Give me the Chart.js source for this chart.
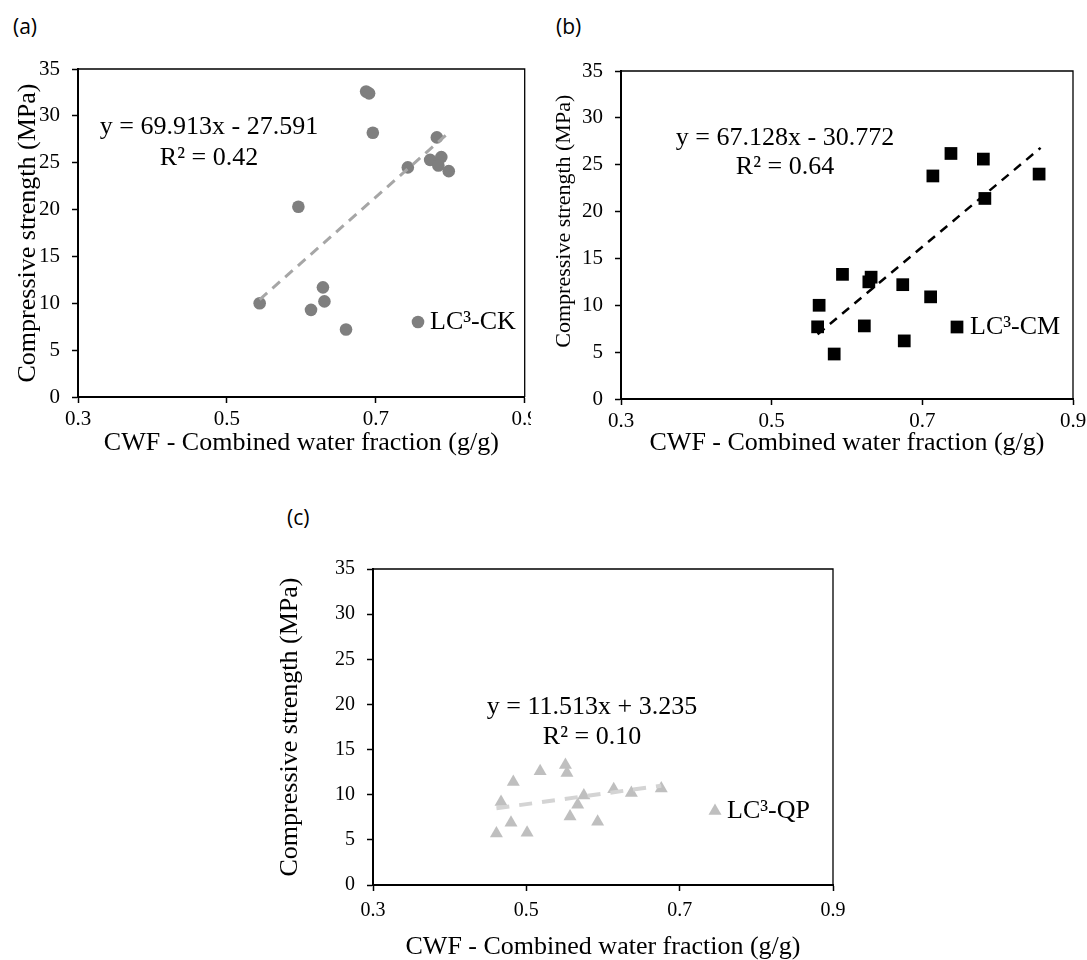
<!DOCTYPE html>
<html lang="en">
<head>
    <meta charset="UTF-8">
    <title>Compressive strength vs combined water fraction</title>
    <script src="https://cdn.jsdelivr.net/npm/chart.js"></script>
    <style>
        body { margin: 0; background: #fff; width: 1087px; height: 960px; position: relative; overflow: hidden; }
        .panel { position: absolute; }
        .tag { position: absolute; font-family: 'Open Sans', sans-serif; font-size: 21px; line-height: 1; color: #000; }
    </style>
</head>
<body>
    <div class="tag" style="left:13px; top:16px">(a)</div>
    <div class="tag" style="left:556px; top:16px">(b)</div>
    <div class="tag" style="left:287px; top:507px">(c)</div>

    <canvas id="chartA" class="panel" width="531" height="456" style="left:0; top:0"></canvas>
    <canvas id="chartB" class="panel" width="547" height="456" style="left:540px; top:0"></canvas>
    <canvas id="chartC" class="panel" width="590" height="490" style="left:270px; top:470px"></canvas>

    <script>
        // axis ticks (shared by all three panels)
        const cwfTicks = [0.3, 0.5, 0.7, 0.9];
        const strengthTicks = [0, 5, 10, 15, 20, 25, 30, 35];

        // (a) LC3-CK
        const ckCwf = [0.687, 0.691, 0.696, 0.782, 0.743, 0.773, 0.788, 0.784, 0.798, 0.596, 0.629, 0.631, 0.613, 0.544, 0.660];
        const ckStrength = [32.6, 32.4, 28.2, 27.7, 24.5, 25.3, 25.6, 24.7, 24.1, 20.3, 11.7, 10.2, 9.3, 10.0, 7.2];
        const ckTrendX = [0.544, 0.798];
        const ckTrendY = [10.4, 28.2];
        const ckEquation = ['y = 69.913x - 27.591', 'R² = 0.42'];

        // (b) LC3-CM
        const cmCwf = [0.563, 0.561, 0.583, 0.594, 0.623, 0.629, 0.632, 0.674, 0.676, 0.711, 0.714, 0.738, 0.781, 0.783, 0.855];
        const cmStrength = [10.0, 7.7, 4.8, 13.3, 7.8, 12.5, 13.0, 12.2, 6.2, 10.9, 23.8, 26.2, 25.6, 21.4, 24.0];
        const cmTrendX = [0.561, 0.857];
        const cmTrendY = [6.9, 26.8];
        const cmEquation = ['y = 67.128x - 30.772', 'R² = 0.64'];

        // (c) LC3-QP
        const qpCwf = [0.461, 0.467, 0.480, 0.483, 0.501, 0.518, 0.551, 0.553, 0.557, 0.567, 0.575, 0.593, 0.614, 0.637, 0.676];
        const qpStrength = [5.7, 9.2, 6.9, 11.4, 5.8, 12.6, 13.3, 12.4, 7.6, 8.9, 9.9, 7.0, 10.6, 10.2, 10.7];
        const qpTrendX = [0.461, 0.676];
        const qpTrendY = [8.5, 11.0];
        const qpEquation = ['y = 11.513x + 3.235', 'R² = 0.10'];

        const serif = "'Liberation Serif', 'Times New Roman', serif";

        // top/right frame, equation text and the one-entry legend inside the plot
        const panelDecor = {
            id: 'panelDecor',
            afterDraw(chart, args, o) {
                const { ctx, chartArea: a } = chart;
                ctx.save();
                ctx.strokeStyle = '#000';
                ctx.lineWidth = 1.3;
                ctx.beginPath();
                ctx.moveTo(a.left, a.top);
                ctx.lineTo(a.right, a.top);
                ctx.lineTo(a.right, a.bottom);
                ctx.stroke();

                ctx.fillStyle = '#000';
                ctx.font = '26px ' + serif;
                ctx.textAlign = 'center';
                ctx.textBaseline = 'middle';
                o.equation.forEach((line, i) => ctx.fillText(line, o.eqX, o.eqY + i * o.eqGap));

                ctx.fillStyle = o.color;
                if (Chart.helpers && Chart.helpers.drawPoint) {
                    Chart.helpers.drawPoint(ctx, { pointStyle: o.pointStyle, radius: o.radius, rotation: 0, borderWidth: 0 }, o.legX, o.legY);
                } else {
                    ctx.beginPath();
                    ctx.arc(o.legX, o.legY, o.radius, 0, Math.PI * 2);
                    ctx.fill();
                }
                ctx.fillStyle = '#000';
                ctx.textAlign = 'left';
                ctx.fillText(o.legend, o.legTextX, o.legY);
                ctx.restore();
            }
        };

        function makeChart(id, p) {
            const points = p.x.map((x, i) => ({ x: x, y: p.y[i] }));
            const trend = p.trendX.map((x, i) => ({ x: x, y: p.trendY[i] }));

            return new Chart(document.getElementById(id), {
                type: 'scatter',
                data: {
                    datasets: [
                        {
                            label: 'Linear trend',
                            data: trend,
                            showLine: true,
                            borderColor: p.trendColor,
                            borderWidth: p.trendWidth,
                            borderDash: p.dash,
                            pointRadius: 0,
                            fill: false,
                            order: 0
                        },
                        {
                            label: p.legend,
                            data: points,
                            pointStyle: p.pointStyle,
                            pointRadius: p.radius,
                            backgroundColor: p.color,
                            borderWidth: 0,
                            order: 1
                        }
                    ]
                },
                options: {
                    responsive: false,
                    animation: false,
                    events: [],
                    layout: { padding: p.padding },
                    scales: {
                        x: {
                            type: 'linear',
                            min: 0.3,
                            max: 0.9,
                            afterBuildTicks: s => { s.ticks = cwfTicks.map(v => ({ value: v })); },
                            afterFit: s => { s.height = p.xAxisH; s.paddingLeft = 0; s.paddingRight = 0; },
                            ticks: {
                                color: '#000',
                                font: { family: serif, size: p.tickSize, lineHeight: 1 },
                                padding: p.xTickPad,
                                autoSkip: false,
                                maxRotation: 0,
                                callback: v => v.toFixed(1)
                            },
                            grid: { drawOnChartArea: false, drawTicks: true, tickLength: 6, tickColor: '#000', tickWidth: 1.5 },
                            border: { display: true, color: '#000', width: 2 },
                            title: {
                                display: true,
                                text: 'CWF - Combined water fraction (g/g)',
                                color: '#000',
                                font: { family: serif, size: 26, lineHeight: 1 },
                                padding: { top: 0, bottom: 0 }
                            }
                        },
                        y: {
                            type: 'linear',
                            min: 0,
                            max: 35,
                            afterBuildTicks: s => { s.ticks = strengthTicks.map(v => ({ value: v })); },
                            afterFit: s => { s.width = p.yAxisW; s.paddingTop = 0; s.paddingBottom = 0; },
                            ticks: {
                                color: '#000',
                                font: { family: serif, size: p.tickSize, lineHeight: 1 },
                                padding: 12,
                                autoSkip: false
                            },
                            grid: { drawOnChartArea: false, drawTicks: true, tickLength: 6, tickColor: '#000', tickWidth: 1.5 },
                            border: { display: true, color: '#000', width: 2 },
                            title: {
                                display: true,
                                text: p.yTitle,
                                color: '#000',
                                font: { family: serif, size: p.yTitleSize, lineHeight: 1 },
                                padding: { top: p.yTitlePad, bottom: 0 }
                            }
                        }
                    },
                    plugins: {
                        legend: { display: false },
                        tooltip: { enabled: false },
                        panelDecor: {
                            equation: p.equation,
                            eqX: p.eqX, eqY: p.eqY, eqGap: p.eqGap,
                            legend: p.legend,
                            pointStyle: p.pointStyle,
                            radius: p.radius,
                            color: p.color,
                            legX: p.legX, legY: p.legY, legTextX: p.legTextX
                        }
                    }
                },
                plugins: [panelDecor]
            });
        }

        const yTitle = 'Compressive strength (MPa)';

        makeChart('chartA', {
            x: ckCwf, y: ckStrength, trendX: ckTrendX, trendY: ckTrendY,
            legend: 'LC³-CK', equation: ckEquation,
            pointStyle: 'circle', radius: 6.3, color: '#7f7f7f',
            trendColor: '#a6a6a6', trendWidth: 3, dash: [10, 7],
            padding: { left: 0, top: 69, right: 3, bottom: 0 },
            yAxisW: 78, xAxisH: 59, tickSize: 21, xTickPad: 6,
            yTitle: yTitle, yTitleSize: 26, yTitlePad: 15,
            eqX: 209, eqY: 127, eqGap: 31,
            legX: 418, legY: 322, legTextX: 430
        });

        // panel (b) has its axis title sitting a little above the middle of the axis
        makeChart('chartB', {
            x: cmCwf, y: cmStrength, trendX: cmTrendX, trendY: cmTrendY,
            legend: 'LC³-CM', equation: cmEquation,
            pointStyle: 'rect', radius: 9, color: '#000',
            trendColor: '#000', trendWidth: 2.5, dash: [9, 7],
            padding: { left: 0, top: 71, right: 14, bottom: 0 },
            yAxisW: 81, xAxisH: 57, tickSize: 21, xTickPad: 6,
            yTitle: '\u00a0\u00a0\u00a0\u00a0\u00a0' + yTitle, yTitleSize: 22, yTitlePad: 13,
            eqX: 245, eqY: 138, eqGap: 29,
            legX: 417, legY: 327, legTextX: 430
        });

        makeChart('chartC', {
            x: qpCwf, y: qpStrength, trendX: qpTrendX, trendY: qpTrendY,
            legend: 'LC³-QP', equation: qpEquation,
            pointStyle: 'triangle', radius: 7.5, color: '#bfbfbf',
            trendColor: '#d4d4d4', trendWidth: 4, dash: [13, 10],
            padding: { left: 0, top: 99, right: 27, bottom: 0 },
            yAxisW: 103, xAxisH: 75, tickSize: 20, xTickPad: 10,
            yTitle: yTitle, yTitleSize: 26, yTitlePad: 7,
            eqX: 322, eqY: 237, eqGap: 30,
            legX: 445, legY: 341, legTextX: 457
        });
    </script>
</body>
</html>
